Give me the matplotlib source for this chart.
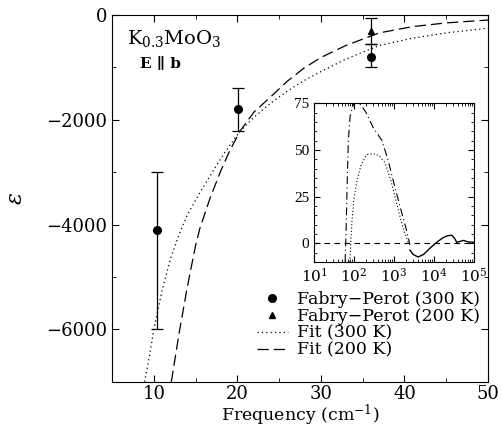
import matplotlib
matplotlib.use("Agg")
import matplotlib.pyplot as plt
from matplotlib.lines import Line2D
from matplotlib.ticker import MultipleLocator, LogLocator, NullFormatter

plt.rcParams['font.family'] = ['DejaVu Serif']
plt.rcParams['mathtext.fontset'] = 'dejavuserif'

# ---- main panel data ----
fp300_x = [10.4, 20.1, 36.0]
fp300_y = [-4100, -1800, -800]
fp300_err_lo = [1900, 420, 200]
fp300_err_hi = [1100, 400, 250]

fp200_x = [36.0]
fp200_y = [-300]
fp200_err_lo = [250]
fp200_err_hi = [250]

fit300_x = [8.9, 9.5, 10, 11, 12, 13, 14, 15.3, 17, 18.5, 20.3, 22, 24, 26, 28, 30, 33, 37, 41, 45, 50]
fit300_y = [-7000, -6500, -6000, -5250, -4650, -4200, -3820, -3450, -3000, -2620, -2220,
            -1950, -1680, -1450, -1250, -1080, -840, -580, -440, -340, -250]

fit200_x = [12.1, 13, 14, 15, 15.5, 16.7, 18, 19, 20.3, 22, 24, 26, 28, 30, 33, 37, 41, 45, 50]
fit200_y = [-7000, -6100, -5200, -4400, -4080, -3510, -2980, -2620, -2220, -1850, -1560,
            -1260, -1010, -810, -580, -340, -220, -150, -95]

# ---- inset data ----
in200_x = [60, 64, 68, 72, 80, 95, 115, 150, 200, 300, 500, 700, 1000, 1400, 2000, 2500]
in200_y = [-10, 10, 35, 55, 68, 74, 76, 74, 70, 62, 55, 45, 32, 20, 8, -1]

in300_x = [79, 84, 89, 100, 118, 150, 210, 300, 420, 600, 850, 1180, 1500, 1900, 2300]
in300_y = [-10, 2, 12, 24, 33, 42, 47.5, 48, 47, 43, 33, 21, 12, 5, 0]

inexp_x = [2500, 3000, 4000, 5500, 8000, 11700, 17000, 22000, 28000, 33000, 37000, 45000, 54000, 71000, 100000]
inexp_y = [-3.7, -6, -7.4, -6, -2.6, 0.5, 3, 4, 4.3, 2.5, 0.5, 1.0, 1.5, 0.7, 0.5]

fig = plt.figure(figsize=(5.0, 4.3), dpi=100)
ax = fig.add_axes([0.224, 0.112, 0.752, 0.853])

ax.plot(fit300_x, fit300_y, color='black', lw=0.9, ls=(0, (1, 2.5)))
ax.plot(fit200_x, fit200_y, color='black', lw=0.9, ls=(0, (9, 4)))

ax.errorbar(fp300_x, fp300_y, yerr=[fp300_err_lo, fp300_err_hi], fmt='o', color='black',
            ms=5.5, elinewidth=0.9, capsize=4, capthick=0.9)
ax.errorbar(fp200_x, fp200_y, yerr=[fp200_err_lo, fp200_err_hi], fmt='^', color='black',
            ms=5, elinewidth=0.9, capsize=4, capthick=0.9)

ax.set_xlim(5, 50)
ax.set_ylim(-7000, 0)
ax.xaxis.set_major_locator(MultipleLocator(10))
ax.xaxis.set_minor_locator(MultipleLocator(5))
ax.yaxis.set_major_locator(MultipleLocator(2000))
ax.yaxis.set_minor_locator(MultipleLocator(1000))
ax.tick_params(which='both', direction='in', top=True, right=True, labelsize=13)
ax.tick_params(which='major', length=5)
ax.tick_params(axis='x', which='major', pad=2)
ax.tick_params(which='minor', length=3)
ax.set_xticks([10, 20, 30, 40, 50])
ax.set_yticks([0, -2000, -4000, -6000])
ax.set_yticklabels(['0', '\u22122000', '\u22124000', '\u22126000'])
ax.set_xlabel('Frequency (cm$^{-1}$)', fontsize=12.5, labelpad=0)
ax.set_ylabel(r'$\varepsilon$', fontsize=16, labelpad=14)

ax.text(0.04, 0.935, 'K$_{0.3}$MoO$_3$', transform=ax.transAxes, fontsize=14, va='center', ha='left')
ax.text(0.075, 0.868, 'E \u2225 b', transform=ax.transAxes, fontsize=11, va='center', ha='left',
        fontweight='bold')

handles = [
    Line2D([], [], ls='none', marker='o', ms=5.5, color='black'),
    Line2D([], [], ls='none', marker='^', ms=5, color='black'),
    Line2D([], [], color='black', lw=0.9, ls=(0, (1, 2.5))),
    Line2D([], [], color='black', lw=0.9, ls=(0, (9, 4))),
]
labels = ['Fabry\u2212Perot (300 K)', 'Fabry\u2212Perot (200 K)', 'Fit (300 K)', 'Fit (200 K)']
ax.legend(handles, labels, loc='lower right',
          bbox_to_anchor=(1.01, 0.03), frameon=False, fontsize=12.5, labelspacing=0.0,
          handlelength=1.8, handletextpad=0.5, borderpad=0.2)

# ---- inset ----
ins = fig.add_axes([0.628, 0.391, 0.32, 0.369])
ins.axhline(0, color='black', lw=0.8, ls=(0, (5, 4)))
ins.plot(in200_x, in200_y, color='black', lw=0.8, ls=(0, (7, 3, 1, 3)))
ins.plot(in300_x, in300_y, color='black', lw=0.8, ls=(0, (1, 2)))
ins.plot(inexp_x, inexp_y, color='black', lw=1.0)
ins.set_xscale('log')
ins.set_xlim(10, 1e5)
ins.set_ylim(-10, 75)
ins.set_yticks([0, 25, 50, 75])
ins.xaxis.set_major_locator(LogLocator(base=10, numticks=10))
ins.xaxis.set_minor_locator(LogLocator(base=10, subs=range(2, 10), numticks=20))
ins.xaxis.set_minor_formatter(NullFormatter())
ins.yaxis.set_minor_locator(MultipleLocator(5))
ins.tick_params(which='both', direction='in', top=True, right=True, labelsize=11)
ins.tick_params(which='major', length=4)
ins.tick_params(which='minor', length=2)
for lab in ins.get_yticklabels():
    lab.set_family('Liberation Serif')

fig.savefig('out.png', dpi=100)
